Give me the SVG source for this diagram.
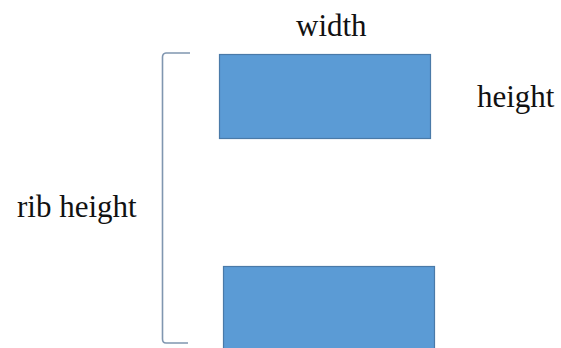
<svg xmlns="http://www.w3.org/2000/svg" width="561" height="348" viewBox="0 0 561 348">
<style>
.lbl{font-family:"Liberation Serif","Times New Roman",serif;font-size:31px;fill:#111111}
.rib{fill:#5b9bd5;stroke:#4a7aa8;stroke-width:1.2}
.br{fill:none;stroke:#8096b0;stroke-width:1.6}
</style>
<rect width="561" height="348" fill="#ffffff"/>
<g id="top-rib"><rect class="rib" x="219.5" y="54.5" width="211" height="84"/></g>
<g id="bottom-rib"><rect class="rib" x="223.5" y="266.5" width="211" height="90"/></g>
<g id="connectors"><path class="br" d="M190,53 H166 Q162.5,53.5 162.5,57 V339 Q162.5,343 166,343 H188"/></g>
<g id="labels">
<text class="lbl" x="296" y="36">width</text>
<text class="lbl" x="477" y="107">height</text>
<text class="lbl" x="17" y="217">rib height</text>
</g>
</svg>
